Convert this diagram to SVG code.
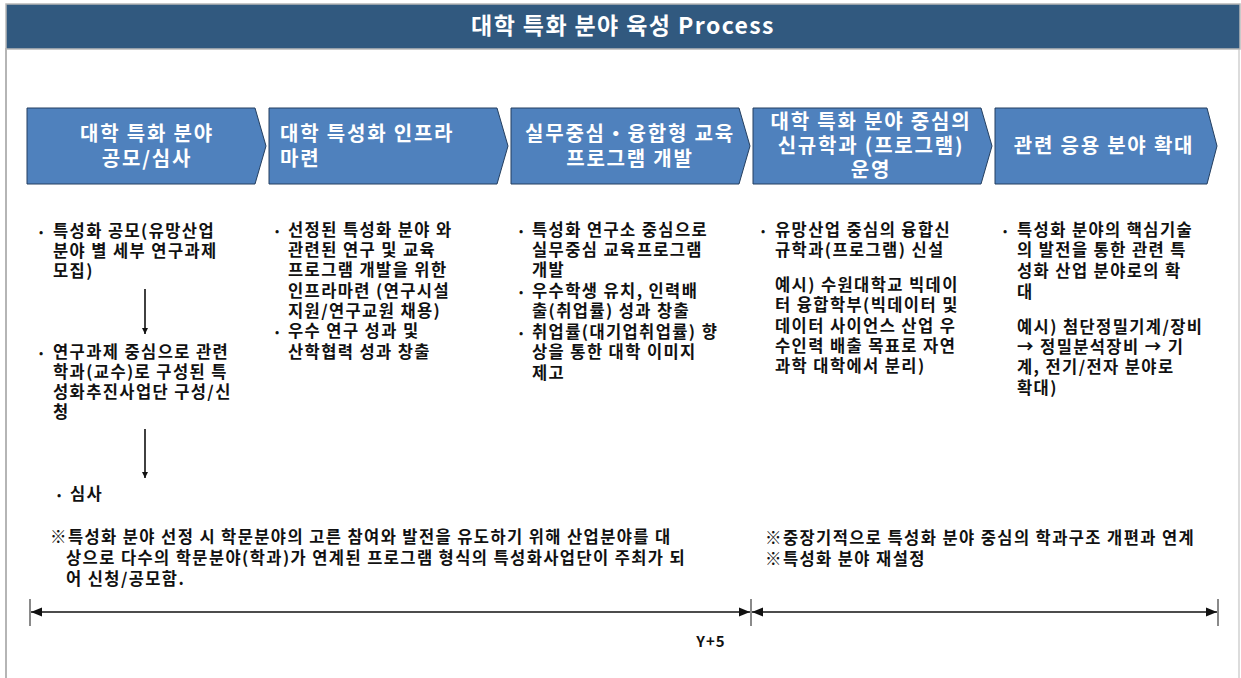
<svg xmlns="http://www.w3.org/2000/svg" width="1241" height="678" viewBox="0 0 1241 678">
<style>
.t{font-family:"Noto Sans CJK KR","Noto Sans",sans-serif;font-weight:bold}
.title{font-size:23px;fill:#fff;letter-spacing:1.4px}
.chev{fill:#4f81bd;stroke:#243f60;stroke-width:1}
.ct{font-size:20px;fill:#fff;letter-spacing:1.8px}
.b{font-size:16.5px;fill:#111;letter-spacing:1.4px}
.bul{font-size:11px;fill:#111}
.conn{stroke:#111;stroke-width:1.6;fill:none}
.tick{stroke:#8a8a8a;stroke-width:2}
</style>
<defs>
<marker id="ah" viewBox="0 0 10 10" refX="10" refY="5" markerWidth="6" markerHeight="6" markerUnits="userSpaceOnUse" orient="auto-start-reverse">
<path d="M0,0 L10,5 L0,10 z" fill="#111"/>
</marker>
<marker id="ah2" viewBox="0 0 10 10" refX="10" refY="5" markerWidth="7" markerHeight="7" orient="auto-start-reverse">
<path d="M0,1 L10,5 L0,9 z" fill="#111"/>
</marker>
</defs>
<rect x="0" y="0" width="1241" height="678" fill="#fff"/>
<line x1="6" y1="48" x2="6" y2="678" stroke="#b5b5b5" stroke-width="2"/>
<line x1="1239" y1="48" x2="1239" y2="678" stroke="#d0d0d0" stroke-width="1.5"/>
<g id="header">
<rect x="6" y="4" width="1234" height="45" fill="#31597f" stroke="#b8b8b8" stroke-width="1.5"/>
<text class="t title" x="623" y="34" text-anchor="middle">대학 특화 분야 육성 Process</text>
</g>
<g id="step1">
<path class="chev" d="M27,108 H255 L266,146 L255,184 H27 Z"/>
<text class="t ct" text-anchor="middle"><tspan x="147" y="141">대학 특화 분야</tspan><tspan x="147" y="166">공모/심사</tspan></text>
</g>
<g id="step2">
<path class="chev" d="M269,108 H497 L508,146 L497,184 H269 Z"/>
<text class="t ct"><tspan x="280" y="141">대학 특성화 인프라</tspan><tspan x="280" y="166">마련</tspan></text>
</g>
<g id="step3">
<path class="chev" d="M511,108 H739 L750,146 L739,184 H511 Z"/>
<text class="t ct" text-anchor="middle"><tspan x="630" y="141">실무중심・융합형 교육</tspan><tspan x="630" y="166">프로그램 개발</tspan></text>
</g>
<g id="step4">
<path class="chev" d="M753,108 H981 L992,146 L981,184 H753 Z"/>
<text class="t ct" text-anchor="middle"><tspan x="871" y="129">대학 특화 분야 중심의</tspan><tspan x="871" y="153">신규학과 (프로그램)</tspan><tspan x="871" y="177">운영</tspan></text>
</g>
<g id="step5">
<path class="chev" d="M995,108 H1207 L1217,146 L1207,184 H995 Z"/>
<text class="t ct" x="1104" y="153" text-anchor="middle">관련 응용 분야 확대</text>
</g>
<g id="col1">
<text class="t bul" x="39" y="236">•</text>
<text class="t b"><tspan x="53" y="237">특성화 공모(유망산업</tspan><tspan x="53" y="257">분야 별 세부 연구과제</tspan><tspan x="53" y="277">모집)</tspan></text>
<text class="t bul" x="39" y="357">•</text>
<text class="t b"><tspan x="53" y="358">연구과제 중심으로 관련</tspan><tspan x="53" y="378">학과(교수)로 구성된 특</tspan><tspan x="53" y="398">성화추진사업단 구성/신</tspan><tspan x="53" y="418">청</tspan></text>
<text class="t bul" x="57" y="499">•</text>
<text class="t b" x="70" y="500">심사</text>
</g>
<g id="col2">
<text class="t bul" x="275" y="235">•</text>
<text class="t b"><tspan x="288" y="236">선정된 특성화 분야 와</tspan><tspan x="288" y="256">관련된 연구 및 교육</tspan><tspan x="288" y="276">프로그램 개발을 위한</tspan><tspan x="288" y="297">인프라마련 (연구시설</tspan><tspan x="288" y="317">지원/연구교원 채용)</tspan></text>
<text class="t bul" x="275" y="336">•</text>
<text class="t b"><tspan x="288" y="337">우수 연구 성과 및</tspan><tspan x="288" y="358">산학협력 성과 창출</tspan></text>
</g>
<g id="col3">
<text class="t bul" x="519" y="235">•</text>
<text class="t b"><tspan x="532" y="236">특성화 연구소 중심으로</tspan><tspan x="532" y="256">실무중심 교육프로그램</tspan><tspan x="532" y="276">개발</tspan></text>
<text class="t bul" x="519" y="296">•</text>
<text class="t b"><tspan x="532" y="297">우수학생 유치, 인력배</tspan><tspan x="532" y="317">출(취업률) 성과 창출</tspan></text>
<text class="t bul" x="519" y="337">•</text>
<text class="t b"><tspan x="532" y="338">취업률(대기업취업률) 향</tspan><tspan x="532" y="358">상을 통한 대학 이미지</tspan><tspan x="532" y="379">제고</tspan></text>
</g>
<g id="col4">
<text class="t bul" x="761" y="235">•</text>
<text class="t b"><tspan x="775" y="236">유망산업 중심의 융합신</tspan><tspan x="775" y="256">규학과(프로그램) 신설</tspan></text>
<text class="t b"><tspan x="775" y="291">예시) 수원대학교 빅데이</tspan><tspan x="775" y="311">터 융합학부(빅데이터 및</tspan><tspan x="775" y="332">데이터 사이언스 산업 우</tspan><tspan x="775" y="352">수인력 배출 목표로 자연</tspan><tspan x="775" y="372">과학 대학에서 분리)</tspan></text>
</g>
<g id="col5">
<text class="t bul" x="1003" y="235">•</text>
<text class="t b"><tspan x="1017" y="236">특성화 분야의 핵심기술</tspan><tspan x="1017" y="256">의 발전을 통한 관련 특</tspan><tspan x="1017" y="277">성화 산업 분야로의 확</tspan><tspan x="1017" y="298">대</tspan></text>
<text class="t b"><tspan x="1017" y="333">예시) 첨단정밀기계/장비</tspan><tspan x="1017" y="353">→ 정밀분석장비 → 기</tspan><tspan x="1017" y="373">계, 전기/전자 분야로</tspan><tspan x="1017" y="394">확대)</tspan></text>
</g>
<g id="notes">
<text class="t b"><tspan x="50" y="543">※특성화 분야 선정 시 학문분야의 고른 참여와 발전을 유도하기 위해 산업분야를 대</tspan><tspan x="66" y="564">상으로 다수의 학문분야(학과)가 연계된 프로그램 형식의 특성화사업단이 주최가 되</tspan><tspan x="66" y="585">어 신청/공모함.</tspan></text>
<text class="t b"><tspan x="765" y="544">※중장기적으로 특성화 분야 중심의 학과구조 개편과 연계</tspan><tspan x="765" y="565">※특성화 분야 재설정</tspan></text>
</g>
<g id="timeline">
<line class="tick" x1="30" y1="599" x2="30" y2="626"/>
<line class="tick" x1="751" y1="599" x2="751" y2="626"/>
<line class="tick" x1="1218" y1="599" x2="1218" y2="626"/>
<text class="t" x="711" y="647" text-anchor="middle" font-size="15" letter-spacing="1" fill="#111">Y+5</text>
</g>
<g id="connectors">
<line class="conn" x1="145" y1="289" x2="145" y2="334" marker-end="url(#ah)"/>
<line class="conn" x1="145" y1="429" x2="145" y2="478" marker-end="url(#ah)"/>
<line class="conn" stroke-width="2.2" x1="31" y1="612" x2="750" y2="612" marker-start="url(#ah2)" marker-end="url(#ah2)"/>
<line class="conn" stroke-width="2.2" x1="752" y1="612" x2="1217" y2="612" marker-start="url(#ah2)" marker-end="url(#ah2)"/>
</g>
</svg>
